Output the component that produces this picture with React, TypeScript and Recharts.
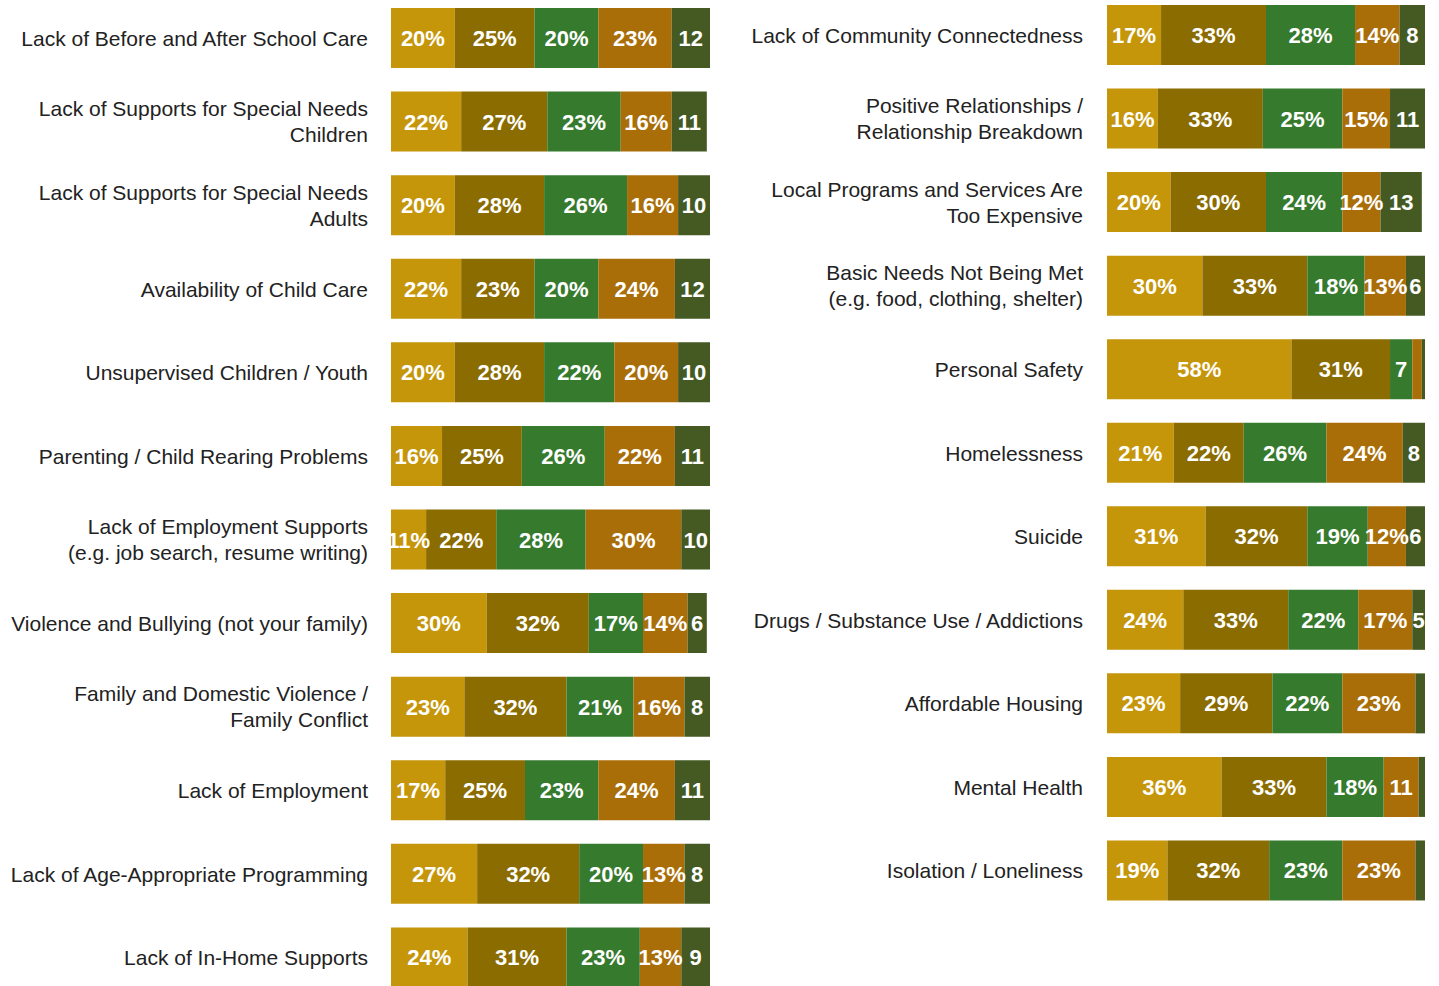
import React from "react";
import { BarChart, Bar, XAxis, YAxis, LabelList } from "recharts";

// rating order left to right: gold, olive, green, brown, dark
const seriesKeys = ["r1", "r2", "r3", "r4", "r5"];
const seriesColors = ["#c5960a", "#8a6c00", "#367a2d", "#aa6e08", "#445a22"];

const leftCategories = [
  "Lack of Before and After School Care",
  "Lack of Supports for Special Needs\nChildren",
  "Lack of Supports for Special Needs\nAdults",
  "Availability of Child Care",
  "Unsupervised Children / Youth",
  "Parenting / Child Rearing Problems",
  "Lack of Employment Supports\n(e.g. job search, resume writing)",
  "Violence and Bullying (not your family)",
  "Family and Domestic Violence /\nFamily Conflict",
  "Lack of Employment",
  "Lack of Age-Appropriate Programming",
  "Lack of In-Home Supports",
];
const leftR1 = [20, 22, 20, 22, 20, 16, 11, 30, 23, 17, 27, 24];
const leftR2 = [25, 27, 28, 23, 28, 25, 22, 32, 32, 25, 32, 31];
const leftR3 = [20, 23, 26, 20, 22, 26, 28, 17, 21, 23, 20, 23];
const leftR4 = [23, 16, 16, 24, 20, 22, 30, 14, 16, 24, 13, 13];
const leftR5 = [12, 11, 10, 12, 10, 11, 10, 6, 8, 11, 8, 9];

const rightCategories = [
  "Lack of Community Connectedness",
  "Positive Relationships /\nRelationship Breakdown",
  "Local Programs and Services Are\nToo Expensive",
  "Basic Needs Not Being Met\n(e.g. food, clothing, shelter)",
  "Personal Safety",
  "Homelessness",
  "Suicide",
  "Drugs / Substance Use / Addictions",
  "Affordable Housing",
  "Mental Health",
  "Isolation / Loneliness",
];
const rightR1 = [17, 16, 20, 30, 58, 21, 31, 24, 23, 36, 19];
const rightR2 = [33, 33, 30, 33, 31, 22, 32, 33, 29, 33, 32];
const rightR3 = [28, 25, 24, 18, 7, 26, 19, 22, 22, 18, 23];
const rightR4 = [14, 15, 12, 13, 3, 24, 12, 17, 23, 11, 23];
const rightR5 = [8, 11, 13, 6, 1, 8, 6, 5, 3, 3, 3];

// segments printed without the % sign in the original
const bareR4 = ["Mental Health"];

const buildRows = (cats: string[], cols: number[][]) =>
  cats.map((name, i) => {
    const row: Record<string, string | number> = { name };
    seriesKeys.forEach((k, s) => {
      row[k] = cols[s][i];
    });
    return row;
  });

const leftRows = buildRows(leftCategories, [leftR1, leftR2, leftR3, leftR4, leftR5]);
const rightRows = buildRows(rightCategories, [rightR1, rightR2, rightR3, rightR4, rightR5]);

const FONT = '"Liberation Sans", Arial, sans-serif';

function CategoryTick(props: any) {
  const { x, y, payload } = props;
  const lines = String(payload.value).split("\n");
  return (
    <text x={x} textAnchor="end" fill="#222" fontSize={21} fontFamily={FONT}>
      {lines.map((line, i) => (
        <tspan key={i} x={x} y={y + 8 + (i - (lines.length - 1) / 2) * 26}>
          {line}
        </tspan>
      ))}
    </text>
  );
}

function segmentLabel(props: any, seriesIndex: number, rows: Record<string, string | number>[]) {
  const { x, y, width, height, value, index } = props;
  if (value == null || Number(value) < 5) return null;
  const name = String(rows[index]?.name);
  const bare =
    seriesIndex === 4 || Number(value) < 10 || (seriesIndex === 3 && bareR4.includes(name));
  return (
    <text
      x={Number(x) + Number(width) / 2}
      y={Number(y) + Number(height) / 2 + 8}
      textAnchor="middle"
      fill="#fff"
      fontSize={22}
      fontWeight="bold"
      fontFamily={FONT}
    >
      {bare ? `${value}` : `${value}%`}
    </text>
  );
}

function Panel({
  rows,
  width,
  height,
  axisWidth,
  gap,
}: {
  rows: Record<string, string | number>[];
  width: number;
  height: number;
  axisWidth: number;
  gap: number;
}) {
  return (
    <BarChart
      layout="vertical"
      width={width}
      height={height}
      data={rows}
      margin={{ top: 0, right: 0, bottom: 0, left: 0 }}
      barSize={60}
    >
      <XAxis type="number" domain={[0, 100]} hide allowDataOverflow />
      <YAxis
        type="category"
        dataKey="name"
        width={axisWidth}
        axisLine={false}
        tickLine={false}
        tickSize={0}
        tickMargin={gap}
        interval={0}
        tick={<CategoryTick />}
      />
      {seriesKeys.map((k, i) => (
        <Bar key={k} dataKey={k} stackId="s" fill={seriesColors[i]} isAnimationActive={false}>
          <LabelList dataKey={k} content={(p: any) => segmentLabel(p, i, rows)} />
        </Bar>
      ))}
    </BarChart>
  );
}

export default function App() {
  return (
    <div
      style={{
        position: "absolute",
        left: 0,
        top: 0,
        width: 1439,
        height: 986,
        overflow: "hidden",
        background: "#fff",
        fontFamily: FONT,
      }}
    >
      <div style={{ position: "absolute", left: 0, top: -3.8 }}>
        <Panel rows={leftRows} width={710} height={1003} axisWidth={391} gap={23} />
      </div>
      <div style={{ position: "absolute", left: 700, top: -6.75 }}>
        <Panel rows={rightRows} width={725} height={919} axisWidth={407} gap={24} />
      </div>
    </div>
  );
}
